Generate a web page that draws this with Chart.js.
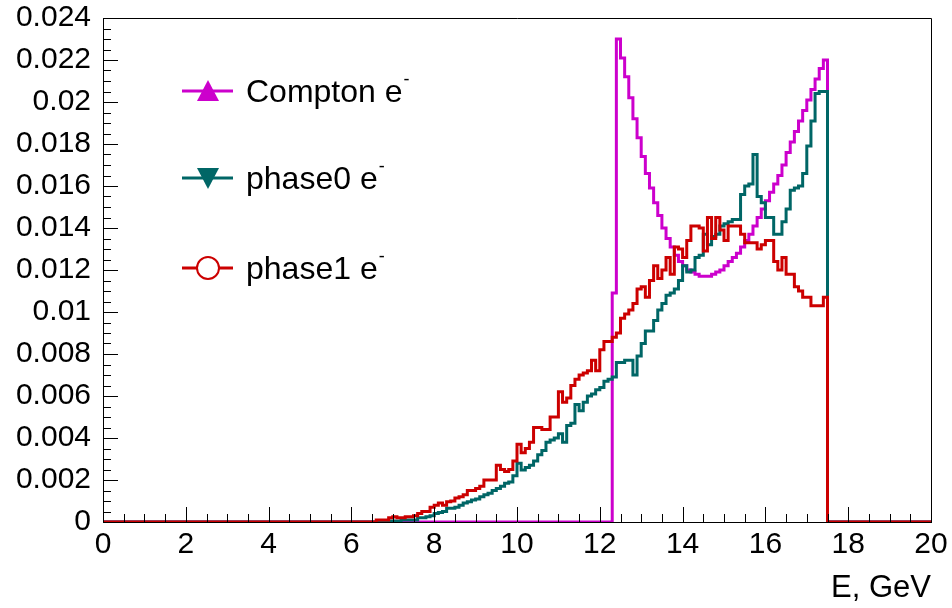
<!DOCTYPE html>
<html>
<head>
<meta charset="utf-8">
<script src="https://cdn.jsdelivr.net/npm/chart.js@4.4.1/dist/chart.umd.min.js"></script>
<style>
  html, body { margin: 0; padding: 0; background: #fff; }
</style>
</head>
<body>
<canvas id="chart" width="952" height="608"></canvas>
<script>
// 200 bins of 0.1 GeV from 0 to 20
let nBins = 200;
let binWidth = 0.1;

// bin contents, starting at the first non-empty bin (all other bins are 0)
let comptonFirst = 12.3;
let comptonValues = [
  0.0109, 0.0230, 0.0221, 0.0212, 0.0202, 0.0192, 0.0183, 0.0174, 0.0166, 0.0159,
  0.0152, 0.0146, 0.0140, 0.0135, 0.0131, 0.0127, 0.0124, 0.0122, 0.0120, 0.0119,
  0.0118, 0.0117, 0.0117, 0.0117, 0.0118, 0.0119, 0.0120, 0.0122, 0.0124, 0.0126,
  0.0128, 0.0131, 0.0134, 0.0137, 0.0141, 0.0145, 0.0149, 0.0153, 0.0157, 0.0161,
  0.0165, 0.0170, 0.0176, 0.0181, 0.0186, 0.0191, 0.0196, 0.0201, 0.0206, 0.0211,
  0.0216, 0.0220
];

let phase0First = 6.8;
let phase0Values = [
  0.00003, 0.00005, 0.00005, 0.00005, 0.0001, 0.0001, 0.0001, 0.0001, 0.0002, 0.0002,
  0.00025, 0.0003, 0.0004, 0.00045, 0.0005, 0.00065, 0.00065, 0.0007, 0.0008, 0.0009,
  0.00097, 0.00105, 0.0011, 0.0012, 0.0013, 0.00137, 0.0015, 0.0016, 0.0017, 0.00184,
  0.0019, 0.0022, 0.0028, 0.00248, 0.0026, 0.0027, 0.0029, 0.0032, 0.0034, 0.0038,
  0.0039, 0.0040, 0.0042, 0.0038, 0.0046, 0.0047, 0.0056, 0.0053, 0.0057, 0.0060,
  0.0061, 0.0063, 0.0064, 0.0067, 0.0068, 0.0069, 0.0076, 0.0076, 0.0077, 0.0077,
  0.0070, 0.0079, 0.0085, 0.0091, 0.0091, 0.0096, 0.0101, 0.0104, 0.0108, 0.0109,
  0.0111, 0.0115, 0.0122, 0.0119, 0.0120, 0.0126, 0.0127, 0.0137, 0.0132, 0.0136,
  0.0137, 0.0141, 0.0142, 0.0143, 0.0144, 0.0144, 0.0156, 0.0160, 0.0161, 0.0175,
  0.0155, 0.0152, 0.0145, 0.0145, 0.0137, 0.0137, 0.0143, 0.0149, 0.0158, 0.0159,
  0.0160, 0.0166, 0.0179, 0.0191, 0.0204, 0.0205, 0.0205
];

let phase1First = 6.6;
let phase1Values = [
  0.0001, 0.0001, 0.0001, 0.0002, 0.00025, 0.0002, 0.0002, 0.00025, 0.00025, 0.0003,
  0.0004, 0.0005, 0.0005, 0.0007, 0.0008, 0.0009, 0.0008, 0.00097, 0.0010, 0.00114,
  0.0012, 0.0013, 0.0015, 0.0015, 0.0016, 0.0017, 0.0020, 0.0020, 0.0020, 0.0027,
  0.0025, 0.0024, 0.0025, 0.0029, 0.0037, 0.0033, 0.0035, 0.0038, 0.0045, 0.0045,
  0.0044, 0.0044, 0.0050, 0.0050, 0.0062, 0.0057, 0.0059, 0.0065, 0.0068, 0.0070,
  0.0071, 0.0072, 0.0077, 0.0072, 0.0082, 0.0086, 0.0086, 0.0088, 0.0090, 0.0097,
  0.0099, 0.0101, 0.0104, 0.0111, 0.0112, 0.0107, 0.0115, 0.0122, 0.0116, 0.0120,
  0.0126, 0.0118, 0.0131, 0.0130, 0.0126, 0.0134, 0.0141, 0.0141, 0.0140, 0.0129,
  0.0145, 0.0135, 0.0145, 0.0139, 0.0134, 0.0141, 0.0141, 0.0141, 0.0137, 0.0133,
  0.0133, 0.0133, 0.0130, 0.0132, 0.0134, 0.0134, 0.0124, 0.0120, 0.0126, 0.0118,
  0.0118, 0.0112, 0.0110, 0.0107, 0.0107, 0.0103, 0.0103, 0.0103, 0.0107
];

let seriesNames = ['Compton e', 'phase0 e', 'phase1 e'];
let seriesColors = ['#cc00cc', '#006666', '#cc0000'];
let seriesMarkers = ['triangleUp', 'triangleDown', 'openCircle'];

let xMin = 0, xMax = 20, xStep = 2, xMinorStep = 0.5;
let yMin = 0, yMax = 0.024, yStep = 0.002, yMinorStep = 0.0005;
let xTitle = 'E, GeV';

let fontFamily = '"Liberation Sans", Arial, Helvetica, sans-serif';

// expand the non-empty range into a full step histogram
// (one point per bin low edge, plus the upper edge of the last bin)
function histPoints(first, values) {
  let start = Math.round(first / binWidth);
  let pts = [];
  for (let i = 0; i < nBins; i++) {
    let v = 0;
    if (i >= start && i < start + values.length) v = values[i - start];
    pts.push({x: i * binWidth, y: v});
  }
  pts.push({x: nBins * binWidth, y: pts[pts.length - 1].y});
  return pts;
}

let histData = [
  histPoints(comptonFirst, comptonValues),
  histPoints(phase0First, phase0Values),
  histPoints(phase1First, phase1Values)
];

let datasets = [];
for (let i = 0; i < histData.length; i++) {
  datasets.push({
    label: seriesNames[i],
    data: histData[i],
    borderColor: seriesColors[i],
    backgroundColor: seriesColors[i],
    borderWidth: 3,
    stepped: 'before',   // hold each bin value until the next edge
    pointRadius: 0,
    fill: false,
    order: histData.length - 1 - i   // last series ends up on top
  });
}

// inward ticks and the top/right frame lines
let frameTicks = {
  id: 'frameTicks',
  afterDraw(chart) {
    let c = chart.ctx;
    let a = chart.chartArea;
    let xs = chart.scales.x, ys = chart.scales.y;
    c.save();
    c.strokeStyle = '#000';
    c.lineWidth = 1;
    c.beginPath();
    c.moveTo(a.left, a.top + 0.5);
    c.lineTo(a.right + 0.5, a.top + 0.5);
    c.lineTo(a.right + 0.5, a.bottom);
    c.stroke();
    c.beginPath();
    let nx = Math.round((xMax - xMin) / xMinorStep);
    for (let i = 0; i <= nx; i++) {
      let v = xMin + i * xMinorStep;
      let px = Math.round(xs.getPixelForValue(v)) + 0.5;
      let len = (i % Math.round(xStep / xMinorStep) === 0) ? 15 : 8;
      c.moveTo(px, a.bottom);
      c.lineTo(px, a.bottom - len);
    }
    let ny = Math.round((yMax - yMin) / yMinorStep);
    for (let i = 0; i <= ny; i++) {
      let v = yMin + i * yMinorStep;
      let py = Math.round(ys.getPixelForValue(v)) + 0.5;
      let len = (i % Math.round(yStep / yMinorStep) === 0) ? 15 : 8;
      c.moveTo(a.left, py);
      c.lineTo(a.left + len, py);
    }
    c.stroke();
    c.restore();
  }
};

// legend: line + marker + label with superscript minus
let rootLegend = {
  id: 'rootLegend',
  afterDraw(chart) {
    let c = chart.ctx;
    let rowY = [91, 178, 268];
    c.save();
    chart.data.datasets.forEach((ds, i) => {
      let y = rowY[i];
      let col = ds.borderColor;
      c.strokeStyle = col;
      c.fillStyle = col;
      c.lineWidth = 3;
      c.beginPath();
      c.moveTo(182, y);
      c.lineTo(233, y);
      c.stroke();
      let mx = 208, s = 11;
      c.beginPath();
      if (seriesMarkers[i] === 'triangleUp') {
        c.moveTo(mx, y - s);
        c.lineTo(mx + s, y + s * 0.9);
        c.lineTo(mx - s, y + s * 0.9);
        c.closePath();
        c.fill();
      } else if (seriesMarkers[i] === 'triangleDown') {
        c.moveTo(mx, y + s);
        c.lineTo(mx + s, y - s * 0.9);
        c.lineTo(mx - s, y - s * 0.9);
        c.closePath();
        c.fill();
      } else {
        c.fillStyle = '#fff';
        c.lineWidth = 2;
        c.arc(mx, y, 11, 0, Math.PI * 2);
        c.fill();
        c.stroke();
      }
      c.fillStyle = '#000';
      c.textAlign = 'left';
      c.textBaseline = 'alphabetic';
      c.font = '32px ' + fontFamily;
      let tx = 246, ty = y + 11;
      c.fillText(ds.label, tx, ty);
      let w = c.measureText(ds.label).width;
      c.font = '18px ' + fontFamily;
      c.fillText('-', tx + w + 1, ty - 17);
    });
    c.restore();
  }
};

let chart = new Chart(document.getElementById('chart'), {
  type: 'line',
  data: { datasets: datasets },
  options: {
    responsive: false,
    animation: false,
    devicePixelRatio: 1,
    layout: { padding: { top: 18, right: 21, left: 0, bottom: 0 } },
    plugins: {
      legend: { display: false },
      tooltip: { enabled: false }
    },
    scales: {
      x: {
        type: 'linear',
        min: xMin,
        max: xMax,
        afterFit(scale) {
          scale.height = 86;
          scale.paddingLeft = 0;
          scale.paddingRight = 0;
        },
        grid: { display: false, drawTicks: false },
        border: { display: true, color: '#000', width: 1 },
        ticks: {
          stepSize: xStep,
          color: '#000',
          padding: 5,
          maxRotation: 0,
          font: { family: fontFamily, size: 30 }
        },
        title: {
          display: true,
          text: xTitle,
          align: 'end',
          color: '#000',
          font: { family: fontFamily, size: 31 },
          padding: { top: 0, bottom: 1 }
        }
      },
      y: {
        type: 'linear',
        min: yMin,
        max: yMax,
        afterFit(scale) {
          scale.width = 103;
          scale.paddingTop = 0;
          scale.paddingBottom = 0;
        },
        grid: { display: false, drawTicks: false },
        border: { display: true, color: '#000', width: 1 },
        ticks: {
          stepSize: yStep,
          color: '#000',
          padding: 12,
          font: { family: fontFamily, size: 30 },
          callback: (v) => String(parseFloat(v.toFixed(4)))
        }
      }
    }
  },
  plugins: [frameTicks, rootLegend]
});
</script>
</body>
</html>
